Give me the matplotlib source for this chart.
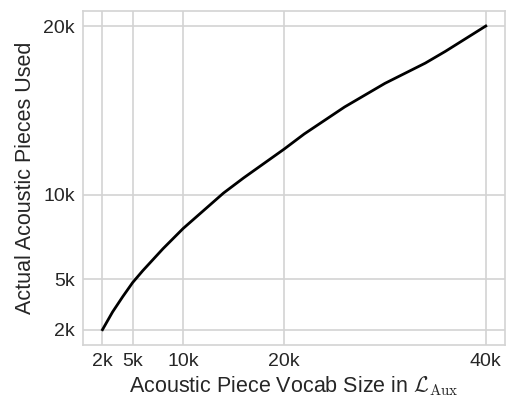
import matplotlib
matplotlib.use("Agg")
import matplotlib.pyplot as plt

# values
vocab_size = [2000, 3000, 4000, 5000, 6000, 8000, 10000, 12000, 14000, 16000, 18000,
              20000, 22000, 24000, 26000, 28000, 30000, 32000, 34000, 36000, 38000, 40000]
pieces_used = [2000, 3050, 3950, 4800, 5500, 6800, 8000, 9050, 10100, 11000, 11850,
               12700, 13600, 14400, 15200, 15900, 16600, 17200, 17800, 18500, 19250, 20000]

x_ticks = [2000, 5000, 10000, 20000, 40000]
y_ticks = [2000, 5000, 10000, 20000]

plt.rcParams["font.family"] = ["Liberation Sans", "DejaVu Sans"]
plt.rcParams["mathtext.fontset"] = "cm"

fig = plt.figure(figsize=(5.08, 4.01), dpi=100)
ax = fig.add_axes([0.164, 0.140, 0.830, 0.833])

ax.plot(vocab_size, pieces_used, color="black", linewidth=2)

ax.set_xticks(x_ticks)
ax.set_xticklabels([f"{v // 1000}k" for v in x_ticks])
ax.set_yticks(y_ticks)
ax.set_yticklabels([f"{v // 1000}k" for v in y_ticks])

ax.grid(True, color="#d3d3d3", linewidth=1.2)
ax.set_axisbelow(True)
for s in ax.spines.values():
    s.set_color("#d3d3d3")
    s.set_linewidth(1.2)
ax.tick_params(length=0, pad=6, colors="#262626", labelsize=14)

ax.set_xlabel(r"Acoustic Piece Vocab Size in $\mathcal{L}_{\mathrm{Aux}}$",
              color="#262626", fontsize=15.5, labelpad=3)
ax.set_ylabel("Actual Acoustic Pieces Used", color="#262626", fontsize=15.5, labelpad=5)

fig.savefig("out.png", dpi=100)
